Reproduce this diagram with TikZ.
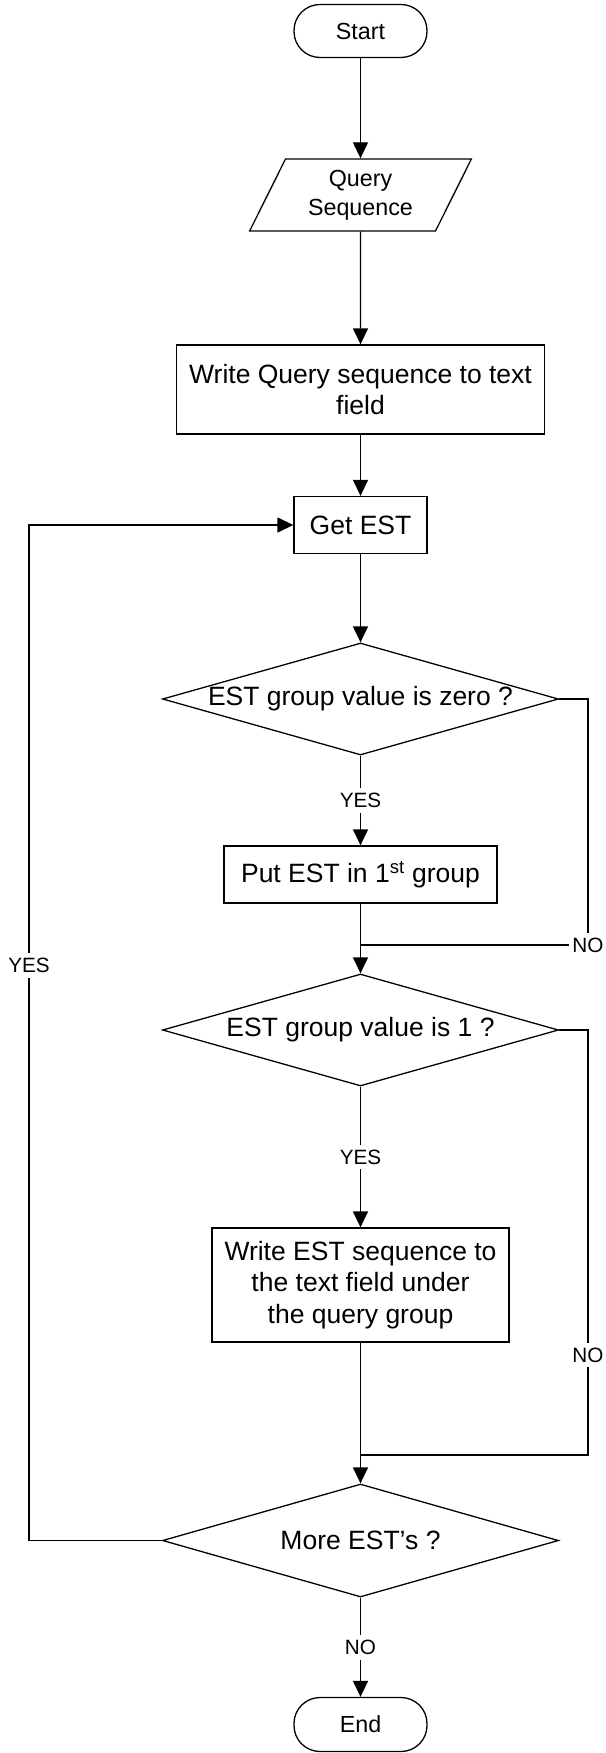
\documentclass[tikz,border=0pt]{standalone}
\usepackage{fontspec}
\setmainfont{Liberation Sans}
\usetikzlibrary{shapes.geometric,arrows.meta}
\newcommand\fcTerm{\fontsize{23.3}{29}\selectfont}
\newcommand\fcProc{\fontsize{26.5}{31.7}\selectfont}
\newcommand\fcLbl{\fontsize{20.7}{24}\selectfont}
\begin{document}
\begin{tikzpicture}[x=1pt,y=-1pt,
  line width=1.3pt,
  termbox/.style={draw, rectangle, rounded corners=26pt, minimum width=133,
    inner sep=0pt, font=\fcTerm},
  iobox/.style={draw, trapezium, trapezium left angle=63.4,
    trapezium right angle=116.6, trapezium stretches=true,
    minimum width=222, minimum height=72, inner sep=0pt, align=center,
    font=\fcTerm},
  procbox/.style={draw, rectangle, inner sep=0pt, align=center, font=\fcProc},
  decision/.style={draw, diamond, minimum width=396, minimum height=112,
    inner sep=0pt, font=\fcProc},
  lbl/.style={fill=white, inner xsep=3pt, inner ysep=5pt, font=\fcLbl},
  flow/.style={-{Triangle[length=16pt,width=15pt]}},
]
\useasboundingbox (0,0) rectangle (605,1753);

% main column
\node[termbox, minimum height=53] (start) at (360.5,31) {Start};
\node[iobox] (qs) at (360.5,195) {Query\\Sequence};
\node[procbox, minimum width=368, minimum height=89] (wq) at (360.5,389.5)
  {Write Query sequence to text\\field};
\node[procbox, minimum width=133, minimum height=57] (get) at (360.5,525) {Get EST};
\node[decision] (d1) at (360.5,699) {\makebox[0pt]{EST group value is zero ?}};
\node[procbox, minimum width=273, minimum height=57] (put) at (360.5,874.5)
  {Put EST in 1\textsuperscript{st} group};
\node[decision] (d2) at (360.5,1030) {\makebox[0pt]{EST group value is 1 ?}};
\node[procbox, minimum width=297, minimum height=114] (west) at (360.5,1285)
  {Write EST sequence to\\the text field under\\the query group};
\node[decision, minimum height=113] (d3) at (360.5,1540.5) {\makebox[0pt]{More EST’s ?}};
\node[termbox, minimum height=54] (fin) at (360.5,1724.5) {End};

% junctions and side rails
\coordinate (j1) at (360.5,945);
\coordinate (j2) at (360.5,1455);
\coordinate (rail) at (588,0);
\coordinate (loop) at (29,0);

% connectors
\draw[flow] (start) -- (qs);
\draw[flow] (qs) -- (wq);
\draw[flow] (wq) -- (get);
\draw[flow] (get) -- (d1);
\draw[flow] (d1) -- node[lbl]{YES} (put);
\draw[flow] (put) -- (d2);
\draw (d1.east) -- (d1.east -| rail) |- node[lbl]{NO} (j1);
\draw[flow] (d2) -- node[lbl]{YES} (west);
\draw[flow] (west) -- (d3);
\draw (d2.east) -- (d2.east -| rail) -- node[lbl,pos=0.765]{NO} (j2 -| rail) -- (j2);
\draw[flow] (d3.west) -- (d3.west -| loop) -- node[lbl,pos=0.566]{YES} (get.west -| loop) -- (get.west);
\draw[flow] (d3) -- node[lbl]{NO} (fin);
\end{tikzpicture}
\end{document}
